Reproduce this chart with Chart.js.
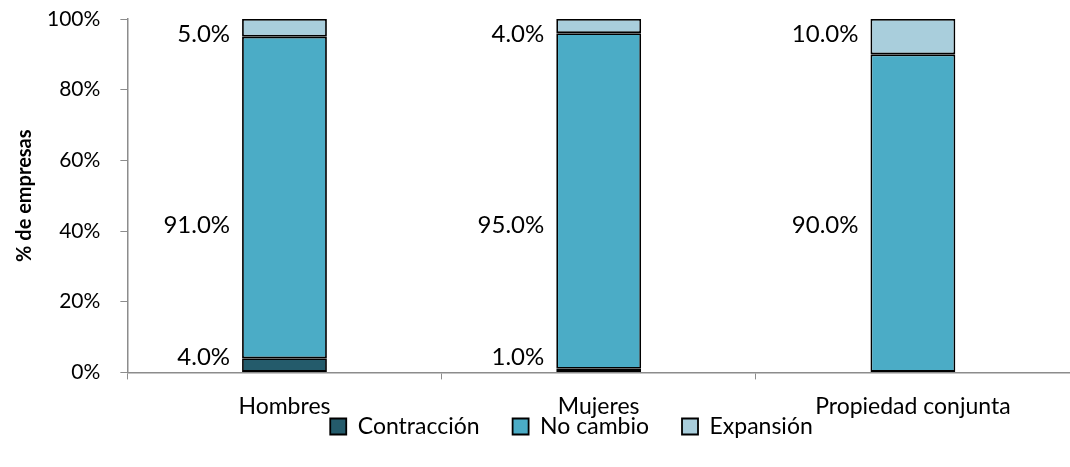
<!DOCTYPE html>
<html>
<head>
<meta charset="utf-8">
<script src="https://cdn.jsdelivr.net/npm/chart.js@4"></script>
<style>
  html, body { margin: 0; padding: 0; background: #fff; }
  #wrap { width: 1070px; height: 467px; }
</style>
</head>
<body>
<div id="wrap"><canvas id="grafico"></canvas></div>
<script>
// Datos
const categorias = ['Hombres', 'Mujeres', 'Propiedad conjunta'];
const contraccion = [4.0, 1.0, 0.0];
const noCambio = [91.0, 95.0, 90.0];
const expansion = [5.0, 4.0, 10.0];
const ticksY = [0, 20, 40, 60, 80, 100];

// Altura (en %) donde va cada etiqueta, por serie
const alturaEtiqueta = [4.3, 41.5, 95.6];

const FUENTE = 'Lato, "Open Sans", sans-serif';

// Etiquetas de valor a la izquierda de cada barra
const etiquetasValor = {
    id: 'etiquetasValor',
    afterDatasetsDraw(chart) {
        const ctx = chart.ctx;
        const y = chart.scales.y;
        ctx.save();
        ctx.font = '24px ' + FUENTE;
        ctx.fillStyle = '#000';
        ctx.textAlign = 'right';
        ctx.textBaseline = 'middle';
        chart.data.datasets.forEach((ds, i) => {
            const meta = chart.getDatasetMeta(i);
            meta.data.forEach((barra, j) => {
                const v = ds.data[j];
                if (!v) return;
                const izq = barra.x - barra.width / 2;
                ctx.fillText(v.toFixed(1) + '%', izq - 12, y.getPixelForValue(alturaEtiqueta[i]));
            });
        });
        ctx.restore();
    }
};

// Sube la leyenda para pegarla a las etiquetas del eje X
// (y agranda su caja para que el texto no quede recortado)
const moverLeyenda = {
    id: 'moverLeyenda',
    afterLayout(chart) {
        const l = chart.legend;
        if (!l) return;
        const arriba = l.top - 38;
        l.top = arriba;
        l.bottom = chart.height;
        l.height = l.bottom - arriba;
        l.left += 30;
        l.right += 30;
    }
};

const ctx = document.getElementById('grafico').getContext('2d');

new Chart(ctx, {
    type: 'bar',
    data: {
        labels: categorias,
        datasets: [
            { label: 'Contracción', data: contraccion, backgroundColor: '#245B6B' },
            { label: 'No cambio', data: noCambio, backgroundColor: '#4BACC6' },
            { label: 'Expansión', data: expansion, backgroundColor: '#A9CEDC' }
        ].map(d => Object.assign(d, {
            borderColor: '#000',
            borderWidth: 1.8,
            borderSkipped: false,
            barPercentage: 0.27,
            categoryPercentage: 1
        }))
    },
    options: {
        responsive: true,
        maintainAspectRatio: false,
        animation: false,
        layout: { padding: { top: 19, right: 0, left: 13, bottom: 0 } },
        scales: {
            x: {
                stacked: true,
                afterFit(axis) {
                    // sin el relleno extra debajo de las etiquetas
                    axis.height -= 13;
                },
                grid: {
                    offset: true,
                    drawOnChartArea: false,
                    drawTicks: true,
                    tickLength: 7,
                    color: '#8c8c8c'
                },
                border: { color: '#8c8c8c', width: 1.5 },
                ticks: {
                    color: '#000',
                    font: { family: FUENTE, size: 23, lineHeight: 1.2 },
                    padding: 13
                }
            },
            y: {
                stacked: true,
                min: 0,
                max: 100,
                afterBuildTicks(axis) {
                    axis.ticks = ticksY.map(v => ({ value: v }));
                },
                afterFit(axis) {
                    axis.paddingTop = 0;
                    axis.width -= 18;
                },
                grid: {
                    drawOnChartArea: false,
                    drawTicks: true,
                    tickLength: 7,
                    color: '#8c8c8c'
                },
                border: { color: '#8c8c8c', width: 1.5 },
                ticks: {
                    color: '#000',
                    font: { family: FUENTE, size: 21 },
                    padding: 20,
                    callback: v => v + '%'
                },
                title: {
                    display: true,
                    text: '% de empresas',
                    color: '#000',
                    font: { family: FUENTE, size: 20, weight: 'bold' },
                    padding: { top: 0, bottom: 8 }
                }
            }
        },
        plugins: {
            legend: {
                position: 'bottom',
                maxHeight: 47,
                labels: {
                    color: '#000',
                    font: { family: FUENTE, size: 23, lineHeight: 1 },
                    boxWidth: 16,
                    boxHeight: 16,
                    padding: 33
                }
            },
            tooltip: { enabled: false }
        }
    },
    plugins: [etiquetasValor, moverLeyenda]
});
</script>
</body>
</html>
